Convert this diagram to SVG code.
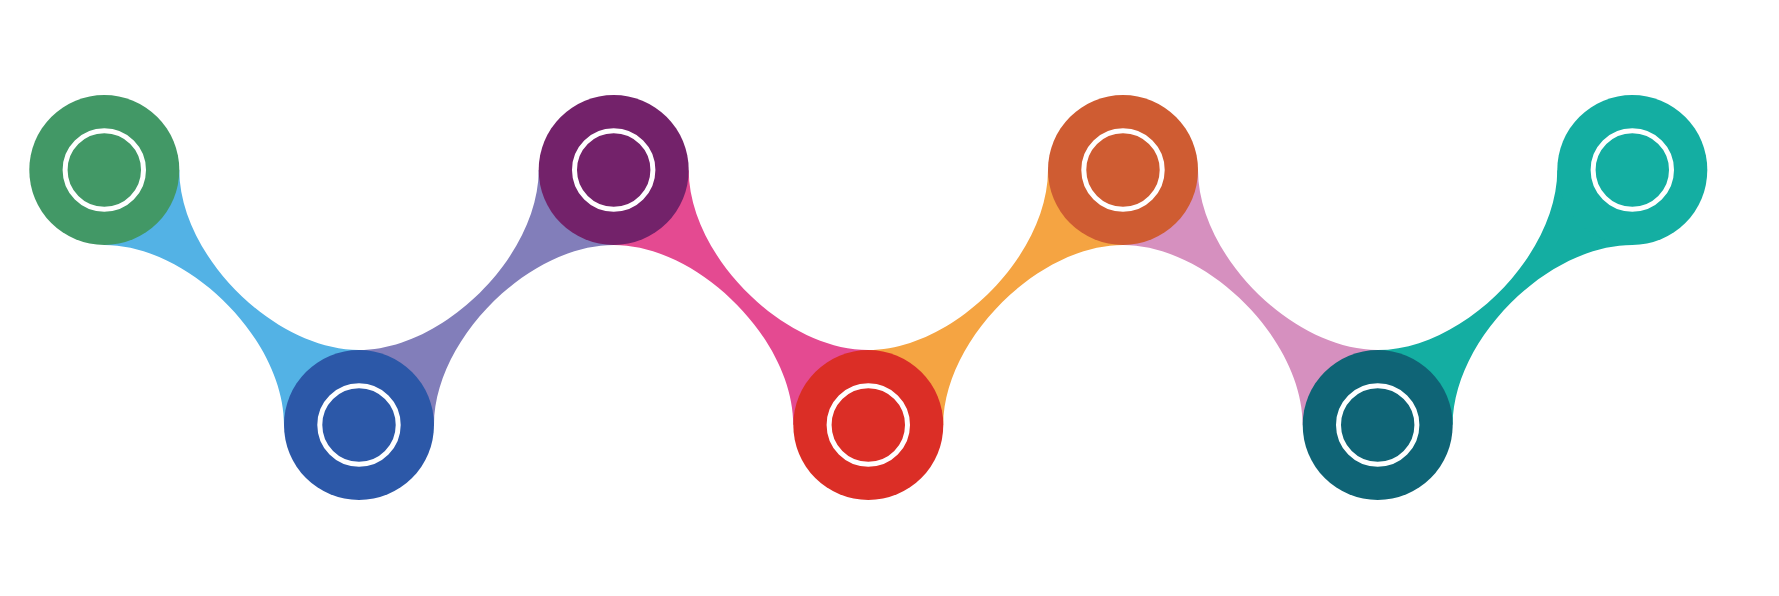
<svg xmlns="http://www.w3.org/2000/svg" width="1779" height="596" viewBox="0 0 1779 596">
<style>
.ring{fill:none;stroke:#ffffff;stroke-width:5}
</style>
<rect width="1779" height="596" fill="#ffffff"/>
<g id="connectors">
<path fill="#53B2E5" d="M179.3,170 C179.3,255 274,350 359,350 L284,425 C284,340 189.3,245 104.3,245 Z"/>
<path fill="#827EBA" d="M359,350 C444,350 538.7,255 538.7,170 L613.7,245 C528.7,245 434,340 434,425 Z"/>
<path fill="#E44A91" d="M688.7,170 C688.7,255 783.3,350 868.3,350 L793.3,425 C793.3,340 698.7,245 613.7,245 Z"/>
<path fill="#F5A442" d="M868.3,350 C953.3,350 1048,255 1048,170 L1123,245 C1038,245 943.3,340 943.3,425 Z"/>
<path fill="#D690BF" d="M1198,170 C1198,255 1292.7,350 1377.7,350 L1302.7,425 C1302.7,340 1208,245 1123,245 Z"/>
<path fill="#14AEA2" d="M1377.7,350 C1462.7,350 1557.3,255 1557.3,170 L1632.3,245 C1547.3,245 1452.7,340 1452.7,425 Z"/>
</g>
<g id="node1"><circle cx="104.3" cy="170" r="75" fill="#429866"/><circle class="ring" cx="104.3" cy="170" r="39.2"/></g>
<g id="node2"><circle cx="359" cy="425" r="75" fill="#2C58A8"/><circle class="ring" cx="359" cy="425" r="39.2"/></g>
<g id="node3"><circle cx="613.7" cy="170" r="75" fill="#73226A"/><circle class="ring" cx="613.7" cy="170" r="39.2"/></g>
<g id="node4"><circle cx="868.3" cy="425" r="75" fill="#DB2E26"/><circle class="ring" cx="868.3" cy="425" r="39.2"/></g>
<g id="node5"><circle cx="1123" cy="170" r="75" fill="#CF5C32"/><circle class="ring" cx="1123" cy="170" r="39.2"/></g>
<g id="node6"><circle cx="1377.7" cy="425" r="75" fill="#0F6476"/><circle class="ring" cx="1377.7" cy="425" r="39.2"/></g>
<g id="node7"><circle cx="1632.3" cy="170" r="75" fill="#14AEA2"/><circle class="ring" cx="1632.3" cy="170" r="39.2"/></g>
</svg>
